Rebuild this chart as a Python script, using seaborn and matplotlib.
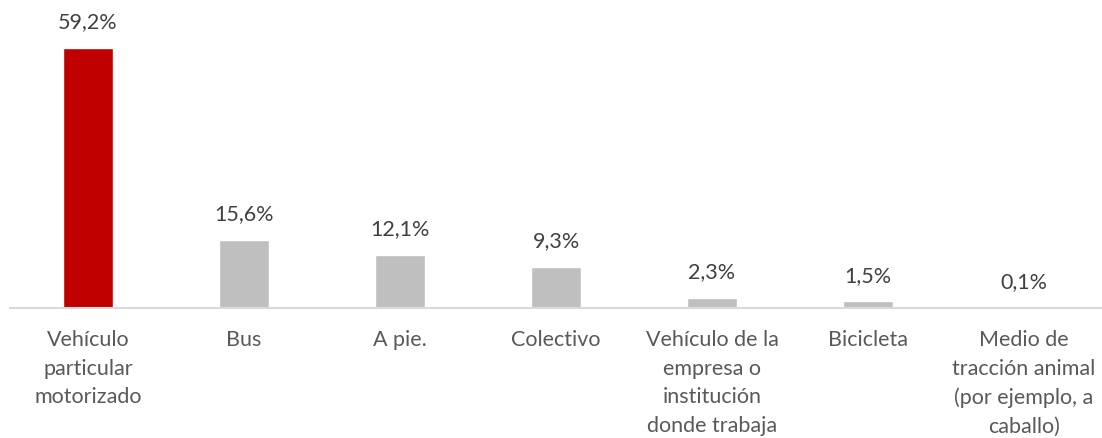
import matplotlib
matplotlib.use("Agg")
import matplotlib.pyplot as plt
import seaborn as sns
import pandas as pd

# Data
categories = [
    "Vehículo\nparticular\nmotorizado",
    "Bus",
    "A pie.",
    "Colectivo",
    "Vehículo de la\nempresa o\ninstitución\ndonde trabaja",
    "Bicicleta",
    "Medio de\ntracción animal\n(por ejemplo, a\ncaballo)",
]
values = [59.2, 15.6, 12.1, 9.3, 2.3, 1.5, 0.1]
value_labels = ["59,2%", "15,6%", "12,1%", "9,3%", "2,3%", "1,5%", "0,1%"]
bar_colors = ["#C00000", "#BFBFBF", "#BFBFBF", "#BFBFBF", "#BFBFBF", "#BFBFBF", "#BFBFBF"]

df = pd.DataFrame({"modo": categories, "pct": values})

sns.set_style("white")
plt.rcParams["font.family"] = ["Lato", "DejaVu Sans"]

fig = plt.figure(figsize=(11.02, 4.39), dpi=100)
ax = fig.add_axes([10 / 1102, 1 - 309 / 439, 1092 / 1102, 309 / 439])

sns.barplot(data=df, x="modo", y="pct", hue="modo", palette=bar_colors,
            width=0.315, legend=False, ax=ax, saturation=1)

ax.set_ylim(0, 70.4)
ax.set_xlim(-0.5, len(categories) - 0.5)

for i, (v, lab) in enumerate(zip(values, value_labels)):
    ax.annotate(lab, (i, v), xytext=(0, 12), textcoords="offset points",
                ha="center", va="bottom", fontsize=15.5, color="#404040")

for s in ["top", "right", "left"]:
    ax.spines[s].set_visible(False)
ax.spines["bottom"].set_color("#D9D9D9")
ax.spines["bottom"].set_linewidth(1.5)

ax.set_yticks([])
ax.set_xlabel("")
ax.set_ylabel("")
ax.tick_params(axis="x", length=0, pad=15, labelsize=15.5, labelcolor="#595959")
for t in ax.get_xticklabels():
    t.set_ha("center")
    t.set_multialignment("center")
    t.set_verticalalignment("top")
    t.set_linespacing(1.55)

fig.savefig("out.png", dpi=100)
